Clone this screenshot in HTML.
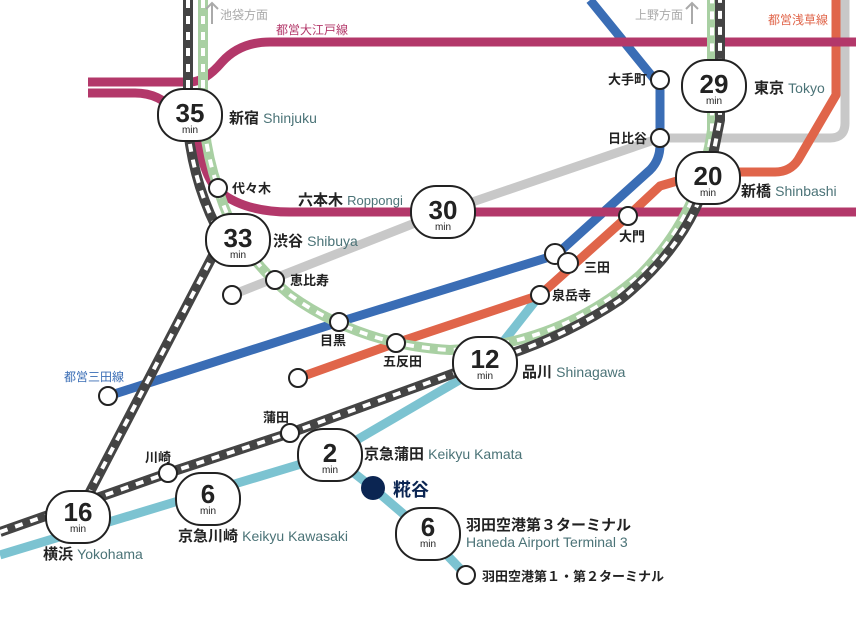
<!DOCTYPE html>
<html><head><meta charset="utf-8"><style>
html,body{margin:0;padding:0;background:#fff;width:856px;height:639px;overflow:hidden}
svg{display:block}
text{font-family:"Liberation Sans","Noto Sans CJK JP",sans-serif}
.j{font-size:13px;font-weight:bold;fill:#222}
.jl{font-size:15px;fill:#222;font-weight:bold}
.en{fill:#4b7377;font-size:14px;font-weight:normal}
.num{font-size:26px;font-weight:bold;fill:#222;text-anchor:middle}
.mn{font-size:10px;fill:#222;text-anchor:middle}
</style></head><body>
<svg width="856" height="639" viewBox="0 0 856 639" xmlns="http://www.w3.org/2000/svg">
<g fill="none" stroke-linejoin="round">
<path d="M232 295 L443 212 L660 138 L830 138 Q845 138 845 123 L845 0" stroke="#c8c8c8" stroke-width="9"/>
<path d="M0 555 L208 492 L331 455 L485 365 L540 295" stroke="#7cc3d1" stroke-width="9"/>
<path d="M331 455 L373 488 L428 535 L466 575" stroke="#7cc3d1" stroke-width="9"/>
<path d="M298 378 L396 343 L540 295 L628 216 L660 186 L708 172 L775 172 Q790 172 798 160 L836 95 L836 0" stroke="#e0654a" stroke-width="9"/>
<path d="M108 396 L339 322 L556 255 L650 170 Q660 160 660 145 L660 90 Q660 85 655 80 L590 0" stroke="#3a6db5" stroke-width="9"/>
<path d="M88 82 L190 82 Q205 82 222 62 Q240 42 270 42 L856 42" stroke="#b3386a" stroke-width="9"/>
<path d="M88 93 L135 93 Q160 93 175 112" stroke="#b3386a" stroke-width="9"/>
<path d="M198 140 Q205 180 220 192 Q245 212 290 212 L856 212" stroke="#b3386a" stroke-width="9"/>
<path d="M203 0 L203 110 Q205 150 218 188 Q235 250 290 295 Q360 345 450 350 Q560 345 640 275 Q700 215 712 130 L712 0" stroke="#a9d0a3" stroke-width="10"/>
<path d="M203 0 L203 110 Q205 150 218 188 Q235 250 290 295 Q360 345 450 350 Q560 345 640 275 Q700 215 712 130 L712 0" stroke="#fff" stroke-width="4" stroke-dasharray="8 8"/>
<path d="M188 0 L188 130 Q195 190 222 238 L78 515" stroke="#444" stroke-width="10"/>
<path d="M188 0 L188 130 Q195 190 222 238 L78 515" stroke="#fff" stroke-width="4" stroke-dasharray="8 8"/>
<path d="M0 532 L168 473 L290 433 L485 362 Q560 340 620 300 Q695 240 712 160 L720 120 L720 0" stroke="#444" stroke-width="10"/>
<path d="M0 532 L168 473 L290 433 L485 362 Q560 340 620 300 Q695 240 712 160 L720 120 L720 0" stroke="#fff" stroke-width="4" stroke-dasharray="8 8"/>
</g>
<g stroke="#aaa" stroke-width="2" fill="none"><path d="M212 24 L212 3 M206 9 L212 3 L218 9"/><path d="M692 24 L692 3 M686 9 L692 3 L698 9"/></g>
<text x="220" y="19" font-size="12" fill="#aaa">池袋方面</text>
<text x="635" y="19" font-size="12" fill="#aaa">上野方面</text>
<text x="276" y="34" font-size="12" fill="#b3386a">都営大江戸線</text>
<text x="768" y="24" font-size="12" fill="#e0654a">都営浅草線</text>
<text x="64" y="381" font-size="12" fill="#3a6db5">都営三田線</text>
<g fill="#fff" stroke="#222" stroke-width="2">
<circle cx="218" cy="188" r="9"/><circle cx="275" cy="280" r="9"/><circle cx="232" cy="295" r="9"/>
<circle cx="339" cy="322" r="9"/><circle cx="396" cy="343" r="9"/><circle cx="298" cy="378" r="9"/>
<circle cx="108" cy="396" r="9"/><circle cx="290" cy="433" r="9"/><circle cx="168" cy="473" r="9"/>
<circle cx="660" cy="80" r="9"/><circle cx="660" cy="138" r="9"/><circle cx="628" cy="216" r="9"/>
<circle cx="555" cy="254" r="10"/><circle cx="568" cy="263" r="10"/><circle cx="540" cy="295" r="9"/>
<circle cx="466" cy="575" r="9"/>
</g>
<circle cx="373" cy="488" r="12" fill="#0b2552"/>
<g fill="#fff" stroke="#222" stroke-width="2">
<rect x="158" y="89" width="64" height="52" rx="25"/>
<rect x="206" y="214" width="64" height="52" rx="25"/>
<rect x="411" y="186" width="64" height="52" rx="25"/>
<rect x="682" y="60" width="64" height="52" rx="25"/>
<rect x="676" y="152" width="64" height="52" rx="25"/>
<rect x="453" y="337" width="64" height="52" rx="25"/>
<rect x="298" y="429" width="64" height="52" rx="25"/>
<rect x="176" y="473" width="64" height="52" rx="25"/>
<rect x="46" y="491" width="64" height="52" rx="25"/>
<rect x="396" y="508" width="64" height="52" rx="25"/>
</g>
<g>
<text class="num" x="190" y="122">35</text><text class="mn" x="190" y="133">min</text>
<text class="num" x="238" y="247">33</text><text class="mn" x="238" y="258">min</text>
<text class="num" x="443" y="219">30</text><text class="mn" x="443" y="230">min</text>
<text class="num" x="714" y="93">29</text><text class="mn" x="714" y="104">min</text>
<text class="num" x="708" y="185">20</text><text class="mn" x="708" y="196">min</text>
<text class="num" x="485" y="368">12</text><text class="mn" x="485" y="379">min</text>
<text class="num" x="330" y="462">2</text><text class="mn" x="330" y="473">min</text>
<text class="num" x="208" y="503">6</text><text class="mn" x="208" y="514">min</text>
<text class="num" x="78" y="521">16</text><text class="mn" x="78" y="532">min</text>
<text class="num" x="428" y="536">6</text><text class="mn" x="428" y="547">min</text>
</g>
<text class="j" x="232" y="193">代々木</text>
<text class="j" x="290" y="285">恵比寿</text>
<text class="j" x="320" y="345">目黒</text>
<text class="j" x="383" y="366">五反田</text>
<text class="j" x="263" y="422">蒲田</text>
<text class="j" x="145" y="462">川崎</text>
<text class="j" x="608" y="84">大手町</text>
<text class="j" x="608" y="143">日比谷</text>
<text class="j" x="619" y="241">大門</text>
<text class="j" x="584" y="272">三田</text>
<text class="j" x="552" y="300">泉岳寺</text>
<text class="j" x="482" y="581">羽田空港第１・第２ターミナル</text>
<text class="jl" x="229" y="123">新宿 <tspan class="en">Shinjuku</tspan></text>
<text class="jl" x="273" y="246">渋谷 <tspan class="en">Shibuya</tspan></text>
<text class="jl" x="298" y="205">六本木 <tspan class="en" style="font-size:13px">Roppongi</tspan></text>
<text class="jl" x="754" y="93">東京 <tspan class="en">Tokyo</tspan></text>
<text class="jl" x="741" y="196">新橋 <tspan class="en">Shinbashi</tspan></text>
<text class="jl" x="522" y="377">品川 <tspan class="en">Shinagawa</tspan></text>
<text class="jl" x="364" y="459">京急蒲田 <tspan class="en">Keikyu Kamata</tspan></text>
<text class="jl" x="178" y="541">京急川崎 <tspan class="en">Keikyu Kawasaki</tspan></text>
<text class="jl" x="43" y="559">横浜 <tspan class="en">Yokohama</tspan></text>
<text x="393" y="496" font-size="18" font-weight="bold" fill="#0b2552">糀谷</text>
<text class="jl" x="466" y="530">羽田空港第３ターミナル</text>
<text class="en" x="466" y="547">Haneda Airport Terminal 3</text>
</svg>
</body></html>
